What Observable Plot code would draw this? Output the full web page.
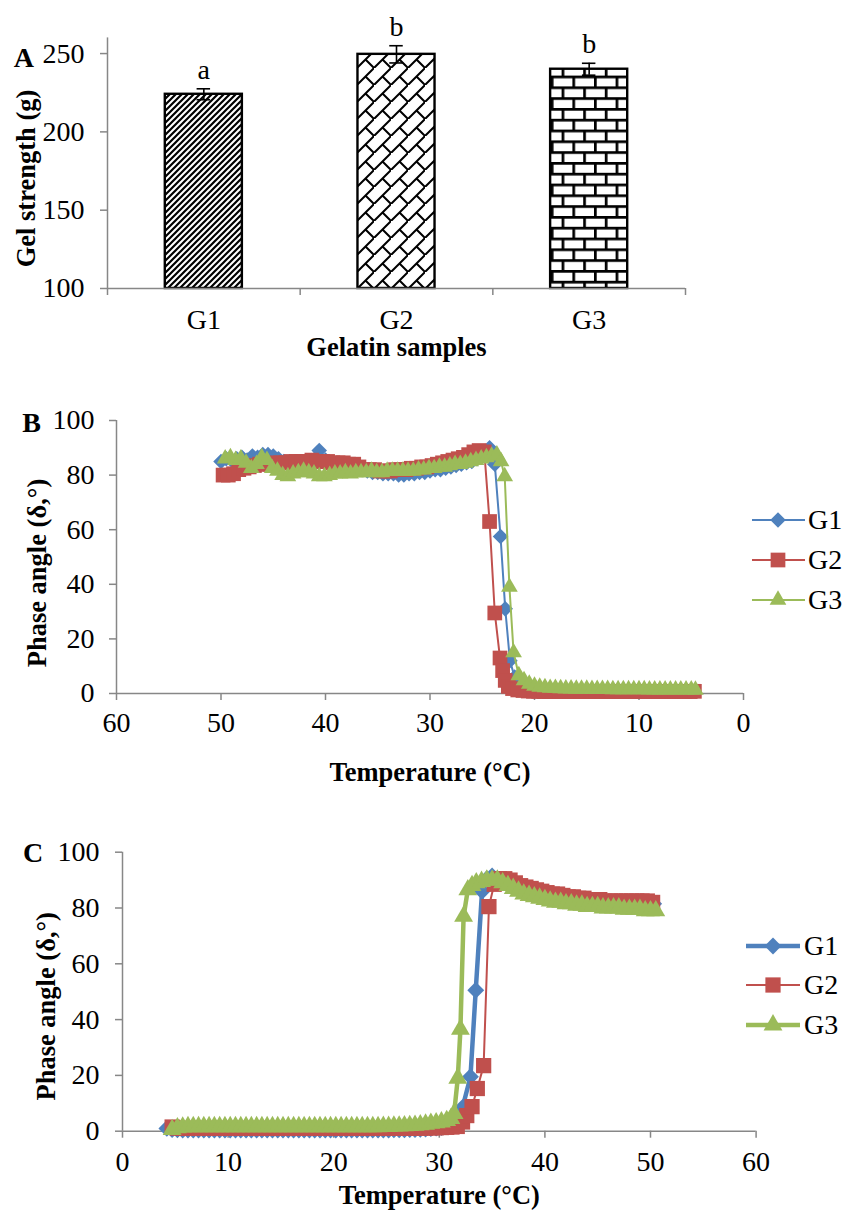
<!DOCTYPE html>
<html><head><meta charset="utf-8">
<script src="https://cdn.jsdelivr.net/npm/d3@7"></script>
<script src="https://cdn.jsdelivr.net/npm/@observablehq/plot@0.6"></script>
<style>
body{margin:0;background:#fff;}
#page{position:relative;width:845px;height:1210px;overflow:hidden;background:#fff;}
</style></head><body><div id="page"></div><script>
// ---------- Panel A data ----------
const A_SAMPLES = ["G1", "G2", "G3"];
const A_STRENGTH = [224, 249.5, 240];
const A_SD = [3.5, 5.5, 3.8];
const A_LETTERS = ["a", "b", "b"];
const A_TICKS = [100, 150, 200, 250];

// ---------- Panel B data (cooling) ----------
const B_TICKS_X = [60, 50, 40, 30, 20, 10, 0];
const B_TICKS_Y = [0, 20, 40, 60, 80, 100];
const bG1Temp = [50,49.5,49,48.5,48,47.5,47,46.5,46,45.5, 45,44.5,44,43.5,43,42.5,42,41.5,41,40.6, 40,39.5,39,38.5,38,37.5,37,36.5,36,35.5, 35,34.5,34,33.5,33,32.5,32,31.5,31,30.5, 30,29.5,29,28.5,28,27.5,27,26.5,26,25.5, 25,24.7,24.3,23.8,23.25,22.8,22.35,21.9,21.5,21, 20.5,20,19.5,19,18.5,18,17.5,17,16.5,16, 15.5,15,14.5,14,13.5,13,12.5,12,11.5,11, 10.5,10,9.5,9,8.5,8,7.5,7,6.5,6, 5.5,5];
const bG1Phase = [85,86,85.5,86,86.5,85.5,87,86.5,87.5,87.5, 87,86,85,84.5,84,84,84.5,85,86,89, 85.5,84.5,84,84,83.5,83,82.5,82,81.5,81, 81,80.5,80.5,80.5,80,80,80.5,80.5,81,81, 81.5,82,82,82.5,83,83.5,84,84.5,85,86, 87,88,90,84,57.5,31,12,6,3.5,2.5, 2,1.6,1.4,1.3,1.2,1.2,1.1,1.1,1.1,1, 1,1,1,1,1,0.9,0.9,0.9,0.9,0.9, 0.9,0.9,0.9,0.8,0.8,0.8,0.8,0.8,0.8,0.8, 0.8,0.8];
const bG2Temp = [49.8,49.3,48.8,48.3,47.8,47.3,46.8,46.3,45.8,45.3, 44.8,44.3,43.8,43.3,42.8,42.3,41.8,41.3,40.8,40.3, 39.8,39.3,38.8,38.3,37.8,37.3,36.8,36.3,35.8,35.3, 34.8,34.3,33.8,33.3,32.8,32.3,31.8,31.3,30.8,30.3, 29.8,29.3,28.8,28.3,27.8,27.3,26.8,26.3,25.8,25.3, 24.8,24.3,23.8,23.3,23.05,22.8,22.5,22.1,21.6,21.1, 20.6,20.1,19.6,19.1,18.6,18.1,17.6,17.1,16.6,16.1, 15.6,15.1,14.6,14.1,13.6,13.1,12.6,12.1,11.6,11.1, 10.6,10.1,9.6,9.1,8.6,8.1,7.6,7.1,6.6,6.1, 5.6,5.1,4.7];
const bG2Phase = [80,80,80.5,82,82.5,83,83.5,84,84,84, 84.5,84.5,84.5,85,85,85,85,85.5,85,85, 85,84.5,84.5,84.5,84,84,83,82,82,82, 81.5,81.5,81.5,82,82,82,82.5,82.5,83,83, 83.5,84,84.5,85,85.5,86,86.5,87.5,88.5,89, 88.5,63,29.5,13,8.4,4.8,2.6,1.8,1.3,1.1, 0.9,0.8,0.8,0.7,0.7,0.7,0.7,0.7,0.7,0.7, 0.7,0.7,0.7,0.7,0.7,0.7,0.7,0.7,0.7,0.7, 0.7,0.7,0.7,0.7,0.7,0.7,0.7,0.7,0.7,0.7, 0.7,0.7,0.8];
const bG3Temp = [49.6,49.1,48.6,48.1,47.6,47.1,46.6,46.1,45.6,45.1, 44.6,44.1,43.6,43.1,42.6,42.1,41.6,41.1,40.6,40.1, 39.6,39.1,38.6,38.1,37.6,37.1,36.6,36.1,35.6,35.1, 34.6,34.1,33.6,33.1,32.6,32.1,31.6,31.1,30.6,30.1, 29.6,29.1,28.6,28.1,27.6,27.1,26.6,26.1,25.6,25.1, 24.6,24.1,23.6,23.2,22.85,22.4,22,21.5,21,20.5, 20,19.5,19,18.5,18,17.5,17,16.5,16,15.5, 15,14.5,14,13.5,13,12.5,12,11.5,11,10.5, 10,9.5,9,8.5,8,7.5,7,6.5,6,5.5, 5,4.6];
const bG3Phase = [86,86.5,85.5,86,84.5,82.5,84,86.5,85.5,82.5, 81.5,80,79.5,80.5,81,81.5,81,80.5,79.5,79.5, 80,80.5,80.5,81,80.5,81,81,81,81.5,81, 81,81.5,81.5,81.5,81.5,81.5,81.5,82,82,82.5, 82.5,83,83,83.5,84,84,84.5,85,85.5,86, 86.5,87,87.5,85,79.5,39,15,6.6,4.8,3.5, 2.8,2.4,2.2,2,2,1.9,1.8,1.8,1.7,1.7, 1.7,1.6,1.6,1.6,1.6,1.5,1.5,1.5,1.5,1.5, 1.5,1.5,1.4,1.4,1.4,1.4,1.4,1.4,1.4,1.4, 1.4,1.3];

// ---------- Panel C data (heating) ----------
const C_TICKS_X = [0, 10, 20, 30, 40, 50, 60];
const C_TICKS_Y = [0, 20, 40, 60, 80, 100];
const cG1Temp = [4.2,4.7,5.2,5.7,6.2,6.7,7.2,7.7,8.2,8.7, 9.2,9.7,10.2,10.7,11.2,11.7,12.2,12.7,13.2,13.7, 14.2,14.7,15.2,15.7,16.2,16.7,17.2,17.7,18.2,18.7, 19.2,19.7,20.2,20.7,21.2,21.7,22.2,22.7,23.2,23.7, 24.2,24.7,25.2,25.7,26.2,26.7,27.2,27.7,28.2,28.7, 29.2,29.7,30.2,30.7,31.2,31.7,32.2,32.95,33.45,34.05, 34.5,35,35.5,36,36.5,37,37.5,38,38.5,39, 39.5,40,40.5,41,41.5,42,42.5,43,43.5,44, 44.5,45,45.5,46,46.5,47,47.5,48,48.5,49, 49.5,50,50.3];
const cG1Phase = [1,0.6,0.5,0.4,0.4,0.4,0.4,0.4,0.4,0.4, 0.4,0.4,0.4,0.4,0.4,0.4,0.4,0.4,0.4,0.4, 0.4,0.4,0.4,0.4,0.4,0.4,0.4,0.4,0.4,0.4, 0.4,0.4,0.4,0.4,0.4,0.4,0.4,0.4,0.4,0.4, 0.4,0.4,0.4,0.5,0.5,0.5,0.6,0.6,0.7,0.8, 0.9,1.1,1.3,1.7,2.3,3.5,8.5,19.5,50.5,86, 90.5,91.5,90.5,89.5,88.5,88,87,86.5,86,85.5, 85,84.5,84,84,83.5,83.5,83,83,82.5,82.5, 82.5,82,82,82,82,82,82,82,82,82, 82,82,81.5];
const cG2Temp = [4.7,5.2,5.7,6.2,6.7,7.2,7.7,8.2,8.7,9.2, 9.7,10.2,10.7,11.2,11.7,12.2,12.7,13.2,13.7,14.2, 14.7,15.2,15.7,16.2,16.7,17.2,17.7,18.2,18.7,19.2, 19.7,20.2,20.7,21.2,21.7,22.2,22.7,23.2,23.7,24.2, 24.7,25.2,25.7,26.2,26.7,27.2,27.7,28.2,28.7,29.2, 29.7,30.2,30.7,31.2,31.7,32.2,32.6,33.1,33.6,34.2, 34.7,35.2,35.7,36.2,36.7,37.2,37.7,38.2,38.7,39.2, 39.7,40.2,40.7,41.2,41.7,42.2,42.7,43.2,43.7,44.2, 44.7,45.2,45.7,46.2,46.7,47.2,47.7,48.2,48.7,49.2, 49.7,50.2];
const cG2Phase = [1.5,1.1,1,1,1,1,1,1,1,1, 1,1,1,1,1,1,1,1,1,1, 1,1,1,1,1,1,1,1,1,1, 1,1,1,1,1,1,1,1,1,1, 1,1,1,1,1,1,1,1.1,1.1,1.2, 1.2,1.3,1.4,1.5,1.7,3.3,5.6,8.8,15.3,23.5, 80.5,88.5,90.5,90.5,90,89,88,87.5,87,86.5, 86,85.5,85,85,84.5,84,84,83.5,83.5,83, 83,83,82.5,82.5,82.5,82.5,82.5,82.5,82.5,82.5, 82.5,82];
const cG3Temp = [4.7,5.2,5.7,6.2,6.7,7.2,7.7,8.2,8.7,9.2, 9.7,10.2,10.7,11.2,11.7,12.2,12.7,13.2,13.7,14.2, 14.7,15.2,15.7,16.2,16.7,17.2,17.7,18.2,18.7,19.2, 19.7,20.2,20.7,21.2,21.7,22.2,22.7,23.2,23.7,24.2, 24.7,25.2,25.7,26.2,26.7,27.2,27.7,28.2,28.7,29.2, 29.7,30.2,30.7,31.1,31.4,31.75,32,32.3,32.7,33.1, 33.5,34,34.5,35,35.5,36,36.5,37,37.5,38, 38.5,39,39.5,40,40.5,41,41.5,42,42.5,43, 43.5,44,44.5,45,45.5,46,46.5,47,47.5,48, 48.5,49,49.5,50,50.5];
const cG3Phase = [0.6,1.2,1.5,1.6,1.6,1.6,1.6,1.6,1.6,1.6, 1.6,1.6,1.6,1.6,1.6,1.6,1.6,1.6,1.6,1.6, 1.6,1.6,1.6,1.6,1.6,1.6,1.6,1.6,1.6,1.6, 1.6,1.6,1.6,1.6,1.6,1.6,1.6,1.6,1.6,1.6, 1.7,1.7,1.8,1.8,1.9,2,2.1,2.3,2.5,2.8, 3,3.3,3.8,4.5,6.3,19,36.5,77,86.5,88, 89,89.5,90,90,90,89,88,87,86,85, 84.5,84,83.5,83,82.5,82,82,81.5,81.5,81, 81,80.5,80.5,80.5,80,80,80,80,79.5,79.5, 79.5,79.5,79,79,79];

// ---------- styles ----------
const SERIES = ["G1", "G2", "G3"];
const COLORS = ["#4F81BD", "#C0504D", "#9BBB59"];
const SYMBOLS = ["diamond2", "square", "triangle"];
const D3SYM = [d3.symbolDiamond2, d3.symbolSquare, d3.symbolTriangle];
const A_PATTERNS = ["url(#patG1)", "url(#patG2)", "url(#patG3)"];
const AXIS_GRAY = "#878787";

// pick an installed Times-like serif face
function pickFont(cands) {
  const c = document.createElement("canvas").getContext("2d");
  const s = "Gelatin samples 250 Wgm";
  for (const f of cands) {
    c.font = "26px monospace"; const w0 = c.measureText(s).width;
    c.font = `26px "${f}", monospace`; const w1 = c.measureText(s).width;
    c.font = "26px sans-serif"; const w2 = c.measureText(s).width;
    c.font = `26px "${f}", sans-serif`; const w3 = c.measureText(s).width;
    if (w0 !== w1 || w2 !== w3) return f;
  }
  return "serif";
}
const FACE = pickFont(["Liberation Serif", "Times New Roman", "Tinos", "Nimbus Roman", "Nimbus Roman No9 L", "FreeSerif", "DejaVu Serif", "Noto Serif"]);
const FONT = FACE === "serif" ? "serif" : `"${FACE}", serif`;
const TICK_FS = 28;
const TITLE_FS = 26.5;
const page = document.getElementById("page");
const st = document.createElement("style");
st.textContent = `#page svg text{font-family:${FONT};}`;
document.head.appendChild(st);

function place(svg, top) {
  svg.style.position = "absolute";
  svg.style.left = "0px";
  svg.style.top = top + "px";
  page.appendChild(svg);
  return svg;
}
const baseStyle = {fontFamily: FONT, fontSize: "26px", color: "#000", background: "transparent", overflow: "visible"};
const title = (txt, o) => Plot.text([txt], {text: d => d, fontWeight: "bold", fontSize: TITLE_FS, fontFamily: FONT, fill: "#000", ...o});

// ---------- Panel A ----------
const aData = A_SAMPLES.map((s, i) => ({s, i, v: A_STRENGTH[i], sd: A_SD[i], letter: A_LETTERS[i]}));
const slot = d => d.i + 0.5;
const svgA = Plot.plot({
  width: 845, height: 368,
  marginLeft: 107, marginRight: 160, marginTop: 37.4, marginBottom: 80,
  x: {domain: [0, A_SAMPLES.length]},
  y: {domain: [100, 260]},
  style: baseStyle,
  marks: [
    ...aData.map(d => Plot.rect([d], {x1: e => e.i + 0.3, x2: e => e.i + 0.7, y1: A_TICKS[0], y2: "v",
      fill: A_PATTERNS[d.i], stroke: "#000", strokeWidth: 2.4})),
    Plot.ruleX(aData, {x: slot, y1: d => d.v - d.sd, y2: d => d.v + d.sd, stroke: "#000", strokeWidth: 1.6}),
    Plot.ruleY(aData, {y: d => d.v + d.sd, x1: d => d.i + 0.465, x2: d => d.i + 0.535, stroke: "#000", strokeWidth: 1.6}),
    Plot.ruleY(aData, {y: d => d.v - d.sd, x1: d => d.i + 0.465, x2: d => d.i + 0.535, stroke: "#000", strokeWidth: 1.6}),
    Plot.text(aData, {x: slot, y: d => d.v + d.sd, text: "letter", dy: -10, lineAnchor: "bottom", fontSize: TICK_FS, fontFamily: FONT, fill: "#000"}),
    Plot.ruleX([0], {stroke: AXIS_GRAY, strokeWidth: 1.5}),
    Plot.ruleY([A_TICKS[0]], {stroke: AXIS_GRAY, strokeWidth: 1.5}),
    Plot.axisY({ticks: A_TICKS, tickSize: 7, tickPadding: 16, stroke: AXIS_GRAY, strokeWidth: 1.5, fill: "#000", fontSize: TICK_FS, fontFamily: FONT, label: null, tickFormat: d => String(d)}),
    Plot.axisX({ticks: [0, 1, 2, 3], tickSize: 7, tickFormat: () => "", stroke: AXIS_GRAY, strokeWidth: 1.5, label: null}),
    Plot.axisX({ticks: [0.5, 1.5, 2.5], tickSize: 0, tickPadding: 21, tickFormat: d => A_SAMPLES[Math.floor(d)], fill: "#000", fontSize: TICK_FS, fontFamily: FONT, label: null}),
    title("A", {frameAnchor: "top-left", dx: -83.7, dy: 20.4, fontSize: 28, textAnchor: "middle", lineAnchor: "middle"}),
    title("Gel strength (g)", {frameAnchor: "left", dx: -81, dy: 15.3, rotate: -90, textAnchor: "middle", lineAnchor: "middle"}),
    title("Gelatin samples", {frameAnchor: "bottom", dy: 49, lineAnchor: "top"})
  ]
});
d3.select(svgA).insert("defs", ":first-child").html(`
  <pattern id="patG1" width="6" height="6" patternUnits="userSpaceOnUse">
    <rect width="6" height="6" fill="#fff"/>
    <path d="M-1.5,1.5 L1.5,-1.5 M0,6 L6,0 M4.5,7.5 L7.5,4.5" stroke="#000" stroke-width="2.2"/>
  </pattern>
  <pattern id="patG2" width="17" height="17" patternUnits="userSpaceOnUse">
    <rect width="17" height="17" fill="#fff"/>
    <path d="M19,-2 L-2,19 M8.5,8.5 L17,17" stroke="#000" stroke-width="2" fill="none"/>
  </pattern>
  <pattern id="patG3" width="21.6" height="21.6" patternUnits="userSpaceOnUse">
    <rect width="21.6" height="21.6" fill="#fff"/>
    <rect x="0" y="0" width="21.6" height="2.7" fill="#000"/>
    <rect x="0" y="10.8" width="21.6" height="2.7" fill="#000"/>
    <rect x="0" y="0" width="2.7" height="10.8" fill="#000"/>
    <rect x="10.8" y="10.8" width="2.7" height="10.8" fill="#000"/>
  </pattern>`);
place(svgA, 0);

// ---------- Line panels ----------
function seriesMarks(temps, vals, i, lw, r) {
  const data = temps.map((t, k) => ({t, v: vals[k]}));
  return [
    Plot.line(data, {x: "t", y: "v", stroke: COLORS[i], strokeWidth: lw}),
    Plot.dot(data, {x: "t", y: "v", symbol: SYMBOLS[i], r, fill: COLORS[i], stroke: "none"})
  ];
}
function axes(xTicks, yTicks, xPad, yPad, xAxisAt, yAxisAt) {
  return [
    Plot.ruleX([xAxisAt], {stroke: AXIS_GRAY, strokeWidth: 1.5}),
    Plot.ruleY([yAxisAt], {stroke: AXIS_GRAY, strokeWidth: 1.5}),
    Plot.axisY({ticks: yTicks, tickSize: 7, tickPadding: yPad, stroke: AXIS_GRAY, strokeWidth: 1.5, fill: "#000", fontSize: TICK_FS, fontFamily: FONT, label: null, tickFormat: d => String(d)}),
    Plot.axisX({ticks: xTicks, tickSize: 7, tickPadding: xPad, stroke: AXIS_GRAY, strokeWidth: 1.5, fill: "#000", fontSize: TICK_FS, fontFamily: FONT, label: null, tickFormat: d => String(d)})
  ];
}

const B_R = [7.0, 8.3, 6.2];
const svgB = Plot.plot({
  width: 845, height: 432,
  marginLeft: 116, marginRight: 102, marginTop: 52, marginBottom: 107,
  x: {domain: [B_TICKS_X[0], B_TICKS_X[B_TICKS_X.length - 1]]},
  y: {domain: [0, 100]},
  style: baseStyle,
  marks: [
    ...axes(B_TICKS_X, B_TICKS_Y, 12, 15, B_TICKS_X[0], 0),
    ...seriesMarks(bG1Temp, bG1Phase, 0, 2, B_R[0]),
    ...seriesMarks(bG2Temp, bG2Phase, 1, 2, B_R[1]),
    ...seriesMarks(bG3Temp, bG3Phase, 2, 2, B_R[2]),
    title("B", {frameAnchor: "top-left", dx: -85, dy: 3, fontSize: 28, textAnchor: "middle", lineAnchor: "middle"}),
    title("Phase angle (δ,°)", {frameAnchor: "left", dx: -79.4, dy: 16, rotate: -90, textAnchor: "middle", lineAnchor: "middle"}),
    title("Temperature (°C)", {frameAnchor: "bottom", dy: 68.7, lineAnchor: "top"})
  ]
});
place(svgB, 368);

const C_R = [7.6, 8.6, 7.0];
const C_LW = [4.5, 2, 4.5];
const svgC = Plot.plot({
  width: 845, height: 410,
  marginLeft: 122, marginRight: 89.4, marginTop: 51.7, marginBottom: 79.3,
  x: {domain: [C_TICKS_X[0], C_TICKS_X[C_TICKS_X.length - 1]]},
  y: {domain: [0, 100]},
  style: baseStyle,
  marks: [
    ...axes(C_TICKS_X, C_TICKS_Y, 13, 16, C_TICKS_X[0], 0),
    ...seriesMarks(cG1Temp, cG1Phase, 0, C_LW[0], C_R[0]),
    ...seriesMarks(cG2Temp, cG2Phase, 1, C_LW[1], C_R[1]),
    ...seriesMarks(cG3Temp, cG3Phase, 2, C_LW[2], C_R[2]),
    title("C", {frameAnchor: "top-left", dx: -89.5, dy: 0.8, fontSize: 28, textAnchor: "middle", lineAnchor: "middle"}),
    title("Phase angle (δ,°)", {frameAnchor: "left", dx: -76, dy: 14.6, rotate: -90, textAnchor: "middle", lineAnchor: "middle"}),
    title("Temperature (°C)", {frameAnchor: "bottom", dy: 53.9, lineAnchor: "top"})
  ]
});
place(svgC, 800);

// ---------- Legends ----------
const ov = d3.select(page).append("svg").attr("width", 845).attr("height", 1210)
  .style("position", "absolute").style("left", "0px").style("top", "0px");
function legend(ys, x1, x2, mx, tx, lws, rs) {
  SERIES.forEach((name, i) => {
    const g = ov.append("g");
    g.append("line").attr("x1", x1).attr("x2", x2).attr("y1", ys[i]).attr("y2", ys[i])
      .attr("stroke", COLORS[i]).attr("stroke-width", lws[i]);
    g.append("path").attr("transform", `translate(${mx},${ys[i]})`)
      .attr("d", d3.symbol(D3SYM[i], Math.PI * rs[i] * rs[i])()).attr("fill", COLORS[i]);
    g.append("text").attr("x", tx).attr("y", ys[i]).attr("dy", "0.33em")
      .style("font-family", FONT).attr("font-size", TICK_FS).attr("fill", "#000").text(name);
  });
}
legend([520, 560, 600], 752, 805, 778, 808, [2, 2, 2], B_R);
legend([946, 985, 1025], 746, 800, 773, 804, C_LW, C_R);
</script></body></html>
